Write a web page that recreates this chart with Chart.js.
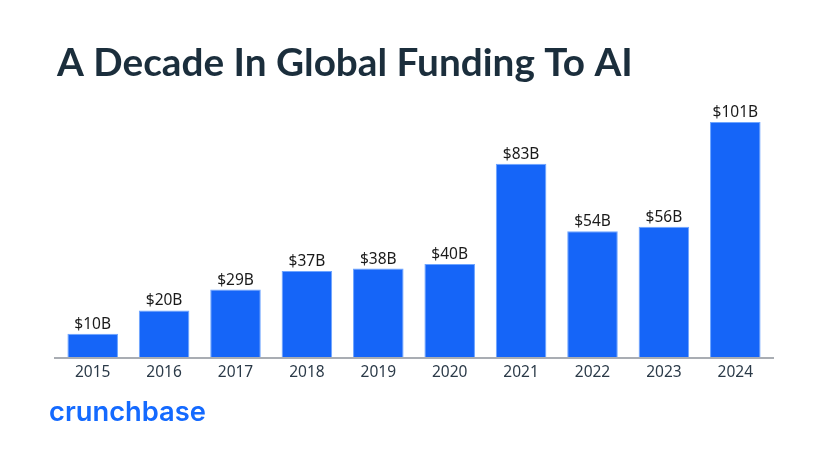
<!DOCTYPE html>
<html>
<head>
<meta charset="utf-8">
<script src="https://cdn.jsdelivr.net/npm/chart.js@4.4.1/dist/chart.umd.min.js"></script>
<style>
  html, body { margin: 0; padding: 0; background: #ffffff; }
  #wrap { width: 818px; height: 458px; position: relative; }
</style>
</head>
<body>
<div id="wrap"><canvas id="chart" width="818" height="458"></canvas></div>
<script>
// Data
var years = ["2015", "2016", "2017", "2018", "2019", "2020", "2021", "2022", "2023", "2024"];
var funding = [10, 20, 29, 37, 38, 40, 83, 54, 56, 101];
var valueLabels = ["$10B", "$20B", "$29B", "$37B", "$38B", "$40B", "$83B", "$54B", "$56B", "$101B"];
var titleText = "A Decade In Global Funding To AI";
var logoText = "crunchbase";

// fit a font size so text spans a given width
function fitFont(ctx, text, weight, family, size, width) {
    ctx.font = weight + " " + size + "px " + family;
    var w = ctx.measureText(text).width;
    return size * width / w;
}

// Title, logo, baseline and value labels
var decorPlugin = {
    id: "decor",
    afterDatasetsDraw: function (chart) {
        var ctx = chart.ctx;
        var area = chart.chartArea;
        ctx.save();

        // baseline
        ctx.strokeStyle = "#a9adb3";
        ctx.lineWidth = 2;
        ctx.beginPath();
        ctx.moveTo(area.left - 3, area.bottom + 1);
        ctx.lineTo(area.right + 3, area.bottom + 1);
        ctx.stroke();

        // value labels above bars
        var meta = chart.getDatasetMeta(0);
        ctx.fillStyle = "#1a1a1a";
        ctx.font = "15.5px 'Noto Sans'";
        ctx.textAlign = "center";
        ctx.textBaseline = "alphabetic";
        meta.data.forEach(function (bar, i) {
            ctx.fillText(valueLabels[i], bar.x, bar.y - 5);
        });

        // title
        var ts = fitFont(ctx, titleText, "bold", "Lato", 34, 576);
        ctx.font = "bold " + ts + "px Lato";
        ctx.fillStyle = "#1b2e3c";
        ctx.textAlign = "left";
        ctx.fillText(titleText, 57, 76);

        // logo
        var ls = fitFont(ctx, logoText, "600", "Inter", 24, 157);
        ctx.font = "600 " + ls + "px Inter";
        ctx.fillStyle = "#146aff";
        ctx.fillText(logoText, 49, 421);

        ctx.restore();
    }
};

var ctx = document.getElementById("chart").getContext("2d");
new Chart(ctx, {
    type: "bar",
    data: {
        labels: years,
        datasets: [{
            data: funding,
            backgroundColor: "#1565f8",
            borderColor: "#6ea5ff",
            borderWidth: 1,
            categoryPercentage: 1.0,
            barPercentage: 0.708
        }]
    },
    options: {
        responsive: false,
        animation: false,
        layout: {
            padding: { left: 57, right: 47, top: 101, bottom: 77 }
        },
        plugins: {
            legend: { display: false },
            title: { display: false },
            tooltip: { enabled: false }
        },
        scales: {
            x: {
                grid: { display: false, drawTicks: false },
                border: { display: false },
                ticks: {
                    color: "#2b3a48",
                    padding: 6,
                    maxRotation: 0,
                    font: { family: "'Noto Sans'", size: 15.5 }
                },
                afterFit: function (scale) {
                    scale.height = 24;
                }
            },
            y: {
                display: false,
                min: 0,
                max: 110
            }
        }
    },
    plugins: [decorPlugin]
});
</script>
</body>
</html>
